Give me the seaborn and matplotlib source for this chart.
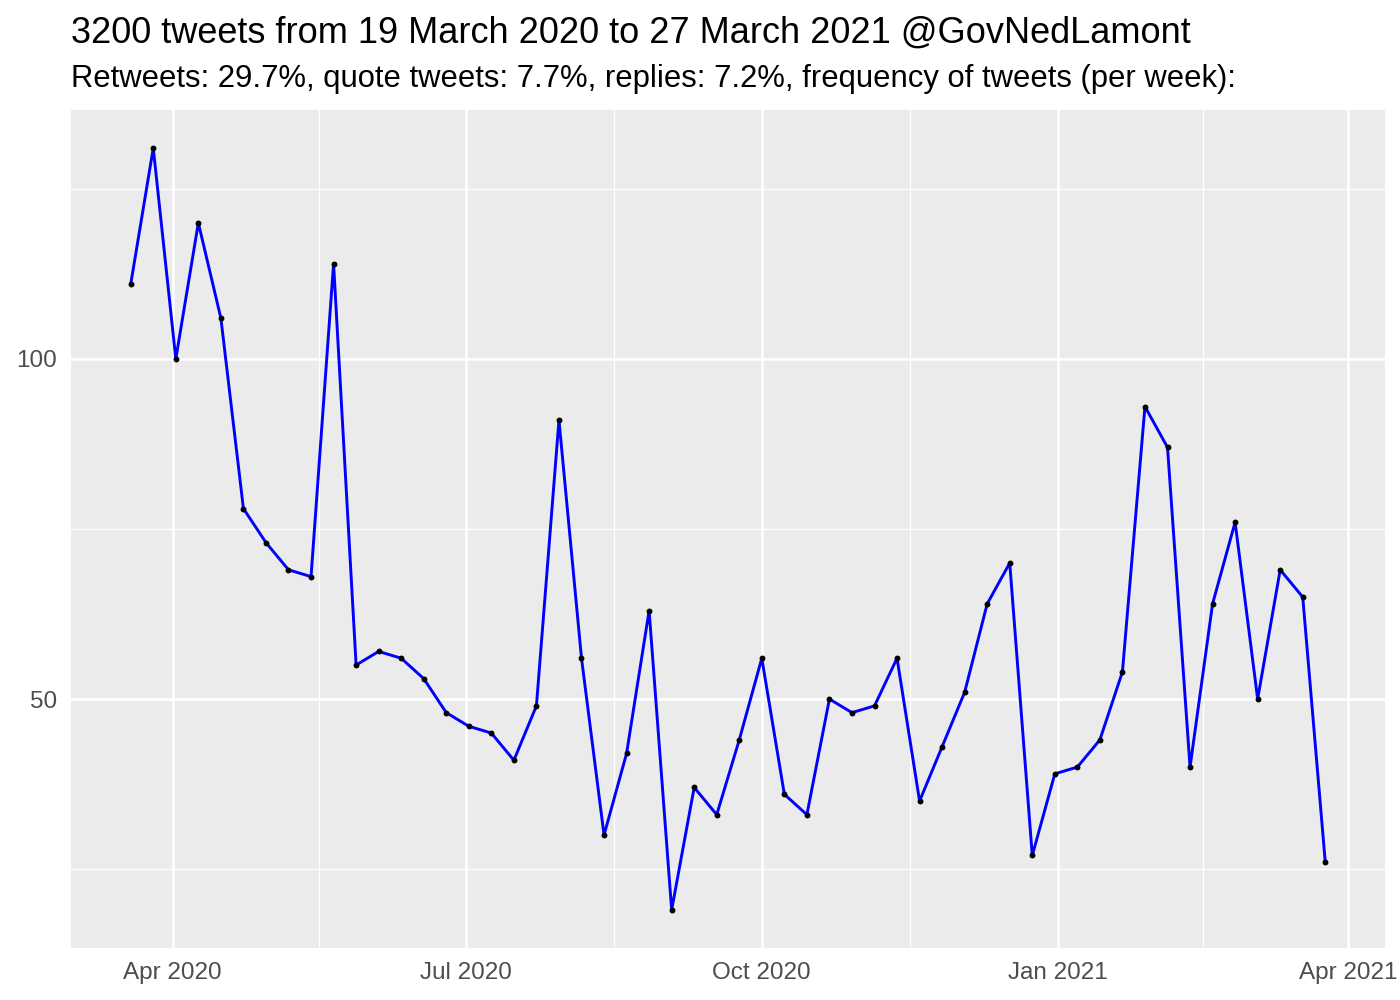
import pandas as pd
import numpy as np
import seaborn as sns
import matplotlib.pyplot as plt
import matplotlib.dates as mdates

# ==========================
# DATA (tweets per week)
# ==========================

start_week = "2020-03-19"
tweets_per_week = [
    111, 131, 100, 120, 106, 78, 73, 69, 68, 114,
    55, 57, 56, 53, 48, 46, 45, 41, 49, 91,
    56, 30, 42, 63, 19, 37, 33, 44, 56, 36,
    33, 50, 48, 49, 56, 35, 43, 51, 64, 70,
    27, 39, 40, 44, 54, 93, 87, 40, 64, 76,
    50, 69, 65, 26,
]
weeks = pd.date_range(start_week, periods=len(tweets_per_week), freq="7D")

title = "3200 tweets from 19 March 2020 to 27 March 2021 @GovNedLamont"
subtitle = "Retweets: 29.7%, quote tweets: 7.7%, replies: 7.2%, frequency of tweets (per week):"

y_major = [50, 100]
y_minor = [25, 75, 125]
x_major = pd.to_datetime(["2020-04-01", "2020-07-01", "2020-10-01", "2021-01-01", "2021-04-01"])

df = pd.DataFrame({"week": weeks, "n": tweets_per_week})

# ==========================
# PLOT
# ==========================

sns.set_style("darkgrid")
plt.rcParams["font.family"] = ["Liberation Sans", "DejaVu Sans"]

fig = plt.figure(figsize=(14, 10), dpi=100)
ax = fig.add_axes([71 / 1400, 52 / 1000, (1385 - 71) / 1400, (948 - 110) / 1000])
ax.set_facecolor("#EBEBEB")

sns.lineplot(data=df, x="week", y="n", ax=ax, color="#0000FF", linewidth=2.1, zorder=3)
sns.scatterplot(data=df, x="week", y="n", ax=ax, color="black", s=18, linewidth=0, zorder=4)

# limits with ggplot-like 5% expansion
x0, x1 = mdates.date2num(weeks[0]), mdates.date2num(weeks[-1])
pad = (x1 - x0) * 0.05
ax.set_xlim(x0 - pad, x1 + pad)
lo, hi = min(tweets_per_week), max(tweets_per_week)
ypad = (hi - lo) * 0.05
ax.set_ylim(lo - ypad, hi + ypad)

xm = mdates.date2num(x_major)
ax.set_xticks(xm)
ax.set_xticklabels([d.strftime("%b %Y") for d in x_major])
ax.set_xticks((xm[:-1] + xm[1:]) / 2, minor=True)
ax.set_yticks(y_major)
ax.set_yticks(y_minor, minor=True)

ax.grid(which="major", color="white", linewidth=1.8)
ax.grid(which="minor", color="white", linewidth=0.9)
ax.set_axisbelow(True)
for s in ax.spines.values():
    s.set_visible(False)

ax.tick_params(which="major", length=5, width=1.6, color="#333333",
               labelsize=17.5, labelcolor="#4D4D4D", pad=5)
ax.tick_params(which="minor", length=0)
ax.set_xlabel("")
ax.set_ylabel("")

fig.text(71 / 1400, 1 - 43 / 1000, title, fontsize=26, color="black", va="baseline")
fig.text(71 / 1400, 1 - 87 / 1000, subtitle, fontsize=22.3, color="black", va="baseline")

fig.savefig("out.png", dpi=100)
